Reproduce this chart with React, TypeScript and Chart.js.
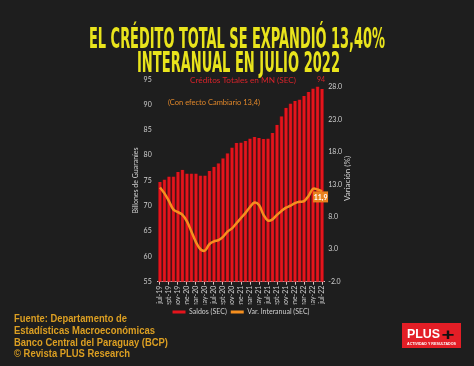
import React, { useEffect, useRef } from 'react';
import { Chart, registerables } from 'chart.js';

Chart.register(...registerables);

const months = [
  'jul-19', 'ago-19', 'sept-19', 'oct-19', 'nov-19', 'dic-19',
  'ene-20', 'feb-20', 'mar-20', 'abr-20', 'may-20', 'jun-20',
  'jul-20', 'ago-20', 'sept-20', 'oct-20', 'nov-20', 'dic-20',
  'ene-21', 'feb-21', 'mar-21', 'abr-21', 'may-21', 'jun-21',
  'jul-21', 'ago-21', 'sept-21', 'oct-21', 'nov-21', 'dic-21',
  'ene-22', 'feb-22', 'mar-22', 'abr-22', 'may-22', 'jun-22', 'jul-22',
];

const saldos = [
  74.7, 75.2, 75.8, 75.8, 76.7, 77.1, 76.4, 76.4, 76.4, 76.0, 76.0, 76.9,
  77.7, 78.4, 79.4, 80.4, 81.5, 82.4, 82.5, 82.8, 83.3, 83.6, 83.4, 83.2,
  83.3, 84.4, 86.0, 87.7, 89.4, 90.2, 90.7, 91.0, 91.7, 92.5, 93.2, 93.6, 93.1,
];

const variacion = [
  12.5, 11.6, 10.4, 9.1, 8.7, 8.3, 7.3, 5.7, 4.1, 3.0, 2.8, 3.8,
  4.2, 4.4, 4.9, 5.7, 6.2, 7.0, 7.8, 8.6, 9.5, 10.2, 9.8, 8.3,
  7.4, 7.6, 8.3, 8.9, 9.4, 9.7, 10.1, 10.3, 10.4, 11.2, 12.3, 12.2, 11.9,
];

const leftTicks = [55, 60, 65, 70, 75, 80, 85, 90, 95];
const rightTicks = [-2, 3, 8, 13, 18, 23, 28];

const seriesNames = ['Saldos (SEC)', 'Var. Interanual (SEC)'];
const titleLines = ['EL CRÉDITO TOTAL SE EXPANDIÓ 13,40%', 'INTERANUAL EN JULIO 2022'];
const annotationRed = 'Créditos Totales en MN (SEC)';
const annotationOrange = '(Con efecto Cambiario 13,4)';
const lastBarLabel = '94';
const lastLineLabel = '11,9';
const leftAxisTitle = 'Billones de Guaraníes';
const rightAxisTitle = 'Variación (%)';
const sourceLines = [
  'Fuente: Departamento de',
  'Estadísticas Macroeconómicas',
  'Banco Central del Paraguay (BCP)',
  '© Revista PLUS Research',
];

const BG = '#1e1e1e';
const BAR = '#e5141c';
const BAR_EDGE = '#820c10';
const LINE = '#f58f1f';
const YELLOW = '#e9e41c';
const GOLD = '#dc9f22';
const TEXT = '#cfcfcf';

function fitText(ctx: CanvasRenderingContext2D, text: string, x: number, y: number, w: number, align: CanvasTextAlign) {
  const m = ctx.measureText(text).width;
  const s = m > 0 ? w / m : 1;
  ctx.save();
  ctx.translate(x, y);
  ctx.scale(s, 1);
  ctx.textAlign = align;
  ctx.fillText(text, 0, 0);
  ctx.restore();
}

const decorPlugin = {
  id: 'decor',
  beforeDraw(chart: any) {
    const ctx = chart.ctx as CanvasRenderingContext2D;
    ctx.save();
    ctx.fillStyle = BG;
    ctx.fillRect(0, 0, chart.width, chart.height);
    ctx.restore();
  },
  afterDraw(chart: any) {
    const ctx = chart.ctx as CanvasRenderingContext2D;
    ctx.save();
    // Title
    ctx.fillStyle = YELLOW;
    ctx.textBaseline = 'alphabetic';
    ctx.font = 'bold 28px "Liberation Sans Narrow", "DejaVu Sans Condensed", sans-serif';
    fitText(ctx, titleLines[0], 237, 48, 296, 'center');
    fitText(ctx, titleLines[1], 238.5, 72, 203, 'center');

    // Annotations in chart
    ctx.textBaseline = 'middle';
    ctx.font = '8px Lato, sans-serif';
    ctx.fillStyle = '#d8232a';
    fitText(ctx, annotationRed, 243, 80, 106, 'center');
    ctx.fillStyle = '#e0872a';
    fitText(ctx, annotationOrange, 214, 102.5, 92, 'center');

    // Last bar label
    const barMeta = chart.getDatasetMeta(0);
    const lastBar = barMeta.data[barMeta.data.length - 1];
    if (lastBar) {
      ctx.fillStyle = '#d8232a';
      ctx.font = '7px Lato, sans-serif';
      ctx.textAlign = 'center';
      ctx.fillText(lastBarLabel, lastBar.x - 1, 80);
    }

    // Last line label
    const lineMeta = chart.getDatasetMeta(1);
    const lastPt = lineMeta.data[lineMeta.data.length - 1];
    if (lastPt) {
      const cx = lastPt.x - 1.5;
      const cy = lastPt.y + 5.5;
      ctx.fillStyle = '#e8821e';
      ctx.fillRect(cx - 7.5, cy - 5.5, 15, 11);
      ctx.fillStyle = '#ffffff';
      ctx.font = 'bold 7px Lato, sans-serif';
      ctx.textAlign = 'center';
      ctx.fillText(lastLineLabel, cx, cy + 0.5);
    }

    // Right axis title
    ctx.save();
    ctx.translate(347, 178.5);
    ctx.rotate(-Math.PI / 2);
    ctx.fillStyle = TEXT;
    ctx.font = '8px Lato, sans-serif';
    ctx.textAlign = 'center';
    ctx.textBaseline = 'middle';
    ctx.fillText(rightAxisTitle, 0, 0);
    ctx.restore();

    // Source text
    ctx.fillStyle = GOLD;
    ctx.textBaseline = 'alphabetic';
    ctx.font = 'bold 10px "Liberation Sans", Arial, sans-serif';
    const widths = [113, 141, 154, 116];
    const baselines = [322, 334, 346, 357];
    sourceLines.forEach((t, i) => fitText(ctx, t, 14, baselines[i], widths[i], 'left'));

    // Logo
    ctx.fillStyle = '#e31e26';
    ctx.fillRect(402, 323, 59, 25);
    ctx.fillStyle = '#ffffff';
    ctx.font = 'bold 12px "Liberation Sans", Arial, sans-serif';
    fitText(ctx, 'PLUS', 407, 338, 33, 'left');
    ctx.fillStyle = '#111111';
    ctx.font = 'bold 16px "Liberation Sans", Arial, sans-serif';
    fitText(ctx, '+', 441.5, 340, 13, 'left');
    ctx.fillStyle = '#ffffff';
    ctx.font = 'bold 4px "Liberation Sans", Arial, sans-serif';
    fitText(ctx, 'ACTIVIDAD Y RESULTADOS', 407, 344.5, 49, 'left');

    ctx.restore();
  },
};

export default function App() {
  const ref = useRef<HTMLCanvasElement | null>(null);

  useEffect(() => {
    document.body.style.margin = '0';
    document.body.style.background = BG;
    const canvas = ref.current;
    if (!canvas) return;
    const chart = new Chart(canvas, {
      type: 'bar',
      data: {
        labels: months,
        datasets: [
          {
            type: 'bar',
            label: seriesNames[0],
            data: saldos,
            yAxisID: 'y',
            backgroundColor: BAR,
            borderColor: BAR_EDGE,
            borderWidth: { left: 0.75, right: 0.75, top: 0, bottom: 0 } as any,
            borderSkipped: false as any,
            barPercentage: 0.95,
            categoryPercentage: 1,
            order: 1,
          },
          {
            type: 'line',
            label: seriesNames[1],
            data: variacion,
            yAxisID: 'y2',
            borderColor: LINE,
            backgroundColor: LINE,
            borderWidth: 2.5,
            pointRadius: 0,
            tension: 0.35,
            order: 0,
          } as any,
        ],
      },
      options: {
        animation: false,
        responsive: false,
        devicePixelRatio: 1,
        layout: { padding: { top: 79.3, left: 128, right: 120, bottom: 40.5 } },
        plugins: {
          tooltip: { enabled: false },
          title: { display: false },
          legend: {
            display: true,
            position: 'bottom',
            labels: {
              color: TEXT,
              boxWidth: 13,
              boxHeight: 3,
              padding: 4,
              font: { size: 7, family: 'Lato, sans-serif' },
              generateLabels: () => [
                { text: seriesNames[0], fillStyle: BAR, strokeStyle: BAR, lineWidth: 0, hidden: false, datasetIndex: 0, fontColor: TEXT } as any,
                { text: seriesNames[1], fillStyle: LINE, strokeStyle: LINE, lineWidth: 0, hidden: false, datasetIndex: 1, fontColor: TEXT } as any,
              ],
            },
          },
        },
        scales: {
          x: {
            type: 'category',
            offset: true,
            border: { display: true, color: '#d9c4c4', width: 1 },
            grid: {
              display: true,
              offset: false,
              drawOnChartArea: false,
              drawTicks: true,
              tickLength: 3,
              color: (c: any) => (c.index % 2 === 0 ? '#d9c4c4' : 'rgba(0,0,0,0)'),
            },
            ticks: {
              autoSkip: false,
              minRotation: 90,
              maxRotation: 90,
              padding: 1,
              color: TEXT,
              font: { size: 7, family: 'Lato, sans-serif' },
              callback: (_v: any, i: number) => (i % 2 === 0 ? months[i] : ''),
            },
            afterFit: (s: any) => { s.height = 22.8; },
          },
          y: {
            type: 'linear',
            position: 'left',
            min: 55,
            max: 95,
            border: { display: false },
            grid: { display: false, drawTicks: false },
            ticks: {
              color: TEXT,
              padding: 6,
              font: { size: 7, family: 'Lato, sans-serif' },
            },
            afterBuildTicks: (s: any) => { s.ticks = leftTicks.map((v) => ({ value: v })); },
            title: {
              display: true,
              text: leftAxisTitle,
              color: TEXT,
              padding: { top: 4, bottom: 0 },
              font: { size: 7, family: 'Lato, sans-serif' },
            },
            afterFit: (s: any) => { s.width = 29.7; },
          },
          y2: {
            type: 'linear',
            position: 'right',
            min: -2,
            max: 29.16,
            border: { display: false },
            grid: { display: false, drawTicks: false },
            ticks: {
              color: TEXT,
              padding: 4,
              font: { size: 7, family: 'Lato, sans-serif' },
              callback: (v: any) => Number(v).toFixed(1),
            },
            afterBuildTicks: (s: any) => { s.ticks = rightTicks.map((v) => ({ value: v })); },
            afterFit: (s: any) => { s.width = 29.7; },
          },
        },
      } as any,
      plugins: [decorPlugin],
    });
    return () => chart.destroy();
  }, []);

  return (
    <div style={{ width: 474, height: 366, background: BG }}>
      <canvas ref={ref} width={474} height={366} style={{ display: 'block' }} />
    </div>
  );
}
